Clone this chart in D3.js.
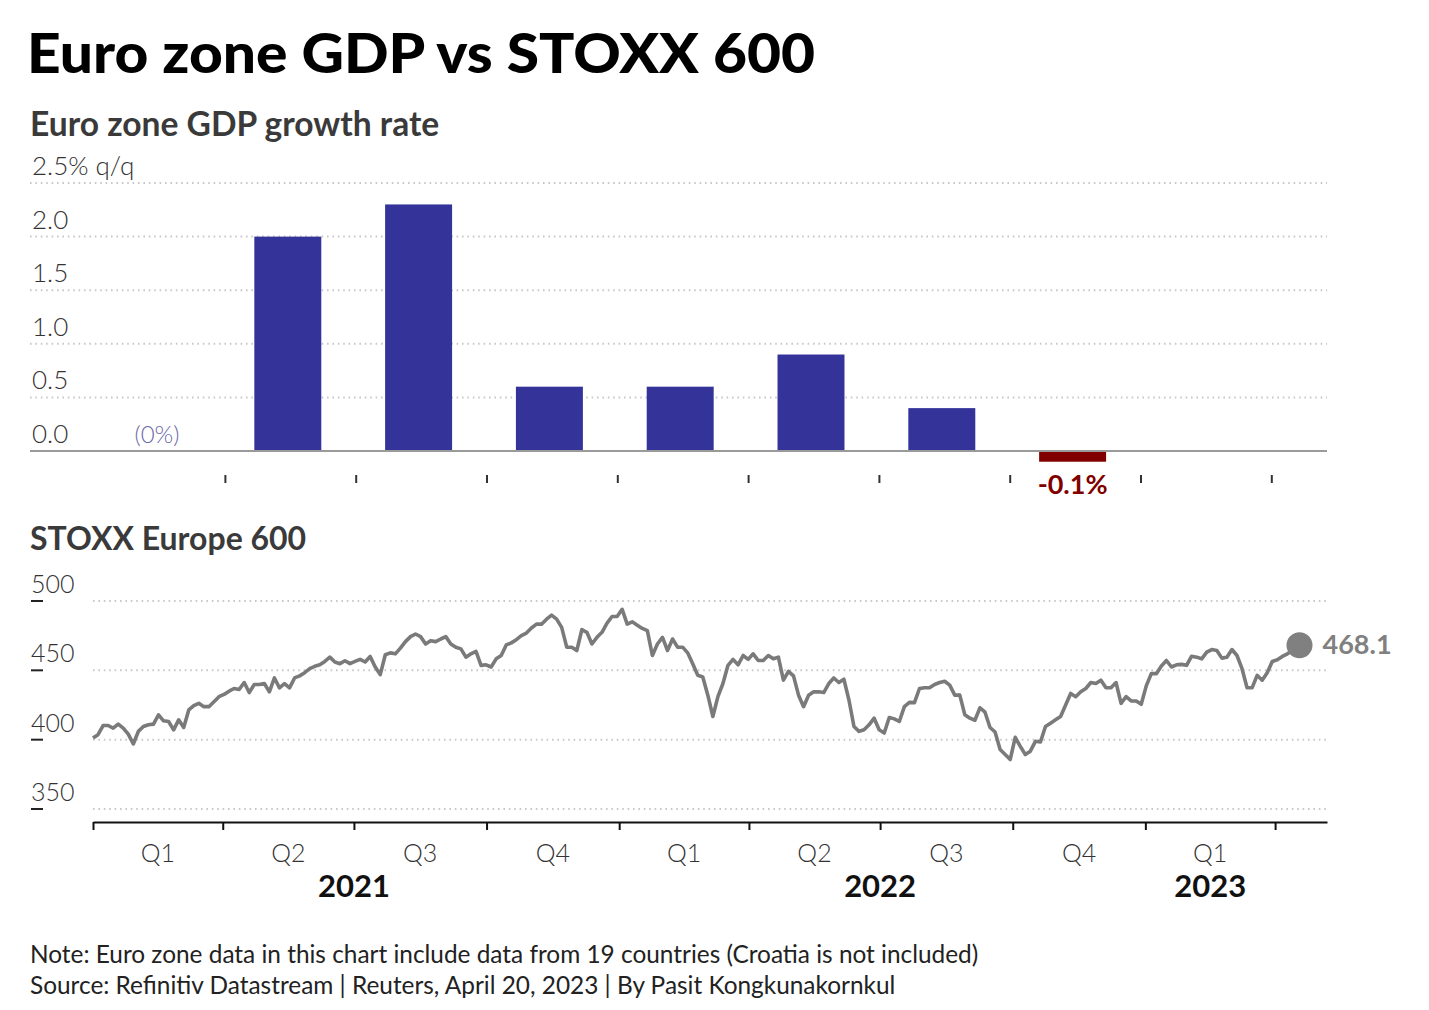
<!DOCTYPE html>
<html><head><meta charset="utf-8">
<script src="https://cdn.jsdelivr.net/npm/d3@7"></script>
<style>
body{margin:0;background:#fff;}
svg{font-family:Lato,"Source Sans Pro",sans-serif;}
</style>
</head><body>
<svg id="c" width="1429" height="1010"></svg>
<script>
// ---------- DATA ----------
const gdpQuarters = ["Q1 2021","Q2 2021","Q3 2021","Q4 2021","Q1 2022","Q2 2022","Q3 2022","Q4 2022","Q1 2023"];
const gdpValues = [0, 2.0, 2.3, 0.6, 0.6, 0.9, 0.4, -0.1, null];
const gdpTicks = [0, 0.5, 1.0, 1.5, 2.0, 2.5];

const stoxxStart = "2021-01-01";
const stoxxEnd = "2023-04-20";
const stoxxValues = [
401.2,403.6,410.2,410.2,408.3,411.2,408.3,404,396.9,406,
409.5,410.7,411.2,417.9,413.6,413.1,407.1,414.3,408.8,421.4,
424.5,426.2,423.8,423.8,427.4,431,432.6,435,436.9,436.2,
441.2,434,439.8,439.8,440.5,434.5,444.5,437.4,440.5,437.4,
444.5,446,448.3,451.2,452.9,454,456.4,459.5,456,454.8,
456.9,454.8,456.4,457.9,456,460,452.4,446.9,461.2,
462.6,461.9,466,470.7,474.3,476.2,474.3,469,471.4,470.7,
472.6,474.3,469,466.7,465.5,459.5,461.9,463.6,453.6,454,
452.4,458.3,460.7,468.3,469.8,472.1,475,476.9,480.5,483.3,
483.3,486.9,489.8,486.9,481,466.7,466.7,464.3,479.3,477.4,
469,473.8,477.4,484,488.8,488.8,494,483.3,485,482.6,
480.2,478.6,460.7,469,473.8,464.3,472.6,466.7,466.7,
462.6,454.8,446.4,445.2,432.1,416.7,431,440.5,453.6,457.9,
454,460.7,457.9,461.9,457.1,457.1,460.7,458.3,459.5,442.9,
449.3,446,432.1,423.8,432.1,434.5,434.5,434,440.5,444.5,
441.2,443.6,428.6,409.5,406,407.1,410.7,415.5,407.1,404.8,
416,415,413.1,423.8,426.9,426.7,436.9,437.4,437.4,439.8,
441.2,442.1,439.3,432.1,432.1,417.9,415.5,414,
423,419.8,408.8,405.5,392.9,389.3,385.7,401.7,395.2,389.3,
391.7,398.8,398.3,409.5,411.9,414.3,416.7,425,433.3,431,
434.5,436.9,441.2,440.5,442.9,437.4,437.4,441.2,426.2,431,
427.9,427.9,425.5,438.8,447.6,447.6,453.1,457.1,452.4,454,
454.3,453.6,460.2,459.5,458.3,463.1,465,464.3,458.8,459.5,
465,460.7,451.2,437.4,437.4,446.4,442.9,448.3,456.4,457.6,
460,461.9,464.3,466.7,468.1
];
const stoxxTicks = [350, 400, 450, 500];
const quarterStarts = ["2021-01-01","2021-04-01","2021-07-01","2021-10-01","2022-01-01","2022-04-01","2022-07-01","2022-10-01","2023-01-01","2023-04-01"];
const quarterLabels = ["Q1","Q2","Q3","Q4","Q1","Q2","Q3","Q4","Q1"];
const yearLabels = ["2021","2022","2023"];
const yearCenters = ["2021-07-01","2022-07-01","2023-02-15"];

// ---------- DRAW ----------
const svg = d3.select("#c");
const parse = d3.utcParse("%Y-%m-%d");

svg.append("text").attr("x", 27).attr("y", 73)
  .attr("font-size", 56).attr("font-weight", 900).attr("fill", "#000")
  .attr("textLength", 788).attr("lengthAdjust", "spacingAndGlyphs")
  .text("Euro zone GDP vs STOXX 600");

svg.append("text").attr("x", 30).attr("y", 136)
  .attr("font-size", 33.6).attr("font-weight", 700).attr("fill", "#3a3a3a")
  .text("Euro zone GDP growth rate");

// Bar chart
const gLeft = 30, gRight = 1327;
const yG = d3.scaleLinear().domain([0, 2.5]).range([451, 183]);
const xG = d3.scaleBand().domain(gdpQuarters).range([91.6, 1268.8]).paddingInner(0.488).paddingOuter(0.244);

const gdpGrid = svg.append("g");
gdpTicks.filter(t => t !== 0).forEach(t => {
  gdpGrid.append("line").attr("x1", gLeft).attr("x2", gRight)
    .attr("y1", yG(t)).attr("y2", yG(t))
    .attr("stroke", "#c8c8c8").attr("stroke-width", 2).attr("stroke-dasharray", "1.6,3.8");
});
gdpTicks.forEach(t => {
  svg.append("text").attr("x", 32).attr("y", yG(t) - 8)
    .attr("font-size", 26).attr("font-weight", 300).attr("fill", "#333")
    .text(t === 2.5 ? "2.5% q/q" : d3.format(".1f")(t));
});

svg.append("g").selectAll("rect")
  .data(gdpQuarters.map((q, i) => ({q, v: gdpValues[i]})).filter(d => d.v !== null && d.v !== 0))
  .join("rect")
  .attr("x", d => xG(d.q)).attr("width", xG.bandwidth())
  .attr("y", d => d.v >= 0 ? yG(d.v) : yG(0))
  .attr("height", d => Math.abs(yG(d.v) - yG(0)))
  .attr("fill", d => d.v >= 0 ? "#333399" : "#800000");

svg.append("line").attr("x1", gLeft).attr("x2", gRight).attr("y1", yG(0)).attr("y2", yG(0))
  .attr("stroke", "#9a9a9a").attr("stroke-width", 2);

gdpQuarters.forEach((q, i) => {
  const v = gdpValues[i];
  if (v === 0) {
    svg.append("text").attr("x", xG(q) + xG.bandwidth()/2).attr("y", yG(0) - 8)
      .attr("text-anchor", "middle").attr("font-size", 24).attr("font-weight", 300).attr("fill", "#6a6aa8")
      .text("(0%)");
  } else if (v !== null && v < 0) {
    svg.append("text").attr("x", xG(q) + xG.bandwidth()/2).attr("y", 494)
      .attr("text-anchor", "middle").attr("font-size", 27).attr("font-weight", 700).attr("fill", "#800000")
      .text(v.toFixed(1) + "%");
  }
});
gdpQuarters.forEach((q, i) => {
  const xb = xG(q) - xG.step() * xG.paddingInner() / 2 + xG.step() + 3;
  svg.append("line").attr("x1", xb).attr("x2", xb).attr("y1", 475).attr("y2", 483)
    .attr("stroke", "#333").attr("stroke-width", 2);
});

// STOXX chart
svg.append("text").attr("x", 30).attr("y", 550)
  .attr("font-size", 32).attr("font-weight", 700).attr("fill", "#3a3a3a")
  .text("STOXX Europe 600");

const xS = d3.scaleUtc().domain([parse("2021-01-01"), parse("2023-05-07")]).range([93, 1327]);
const yS = d3.scaleLinear().domain([350, 500]).range([809, 601]);

stoxxTicks.forEach(t => {
  svg.append("line").attr("x1", 93).attr("x2", 1327).attr("y1", yS(t)).attr("y2", yS(t))
    .attr("stroke", "#c8c8c8").attr("stroke-width", 2).attr("stroke-dasharray", "1.6,3.8");
  svg.append("line").attr("x1", 31).attr("x2", 43).attr("y1", yS(t)).attr("y2", yS(t))
    .attr("stroke", "#222").attr("stroke-width", 2);
  svg.append("text").attr("x", 31).attr("y", yS(t) - 8)
    .attr("font-size", 25).attr("font-weight", 300).attr("fill", "#333")
    .text(t);
});

const t0 = parse(stoxxStart).getTime(), t1 = parse(stoxxEnd).getTime();
const stoxxData = stoxxValues.map((v, i) => ({date: new Date(t0 + (t1 - t0) * i / (stoxxValues.length - 1)), v}));

svg.append("path").datum(stoxxData)
  .attr("fill", "none").attr("stroke", "#7a7a7a").attr("stroke-width", 3.6)
  .attr("stroke-linejoin", "round")
  .attr("d", d3.line().x(d => xS(d.date)).y(d => yS(d.v)));

const last = stoxxData[stoxxData.length - 1];
svg.append("circle").attr("cx", xS(last.date) - 3).attr("cy", yS(last.v)).attr("r", 13).attr("fill", "#808080");
svg.append("text").attr("x", xS(last.date) + 20).attr("y", yS(last.v) + 9)
  .attr("font-size", 27).attr("font-weight", 700).attr("fill", "#808080")
  .text(last.v.toFixed(1));

// x axis
const qDates = quarterStarts.map(parse);
const axis = d3.axisBottom(xS).tickValues(qDates).tickSize(8).tickSizeOuter(0).tickFormat("");
const ax = svg.append("g").attr("transform", "translate(0,822)").call(axis);
ax.select(".domain").attr("stroke", "#111").attr("stroke-width", 2);
ax.selectAll(".tick line").attr("stroke", "#111").attr("stroke-width", 2);

quarterLabels.forEach((l, i) => {
  const xm = (xS(qDates[i]) + xS(qDates[i + 1])) / 2;
  svg.append("text").attr("x", xm).attr("y", 862).attr("text-anchor", "middle")
    .attr("font-size", 25).attr("font-weight", 300).attr("fill", "#333").text(l);
});
yearLabels.forEach((y, i) => {
  svg.append("text").attr("x", xS(parse(yearCenters[i]))).attr("y", 897).attr("text-anchor", "middle")
    .attr("font-size", 31).attr("font-weight", 700).attr("fill", "#111").text(y);
});

// footer
svg.append("text").attr("x", 30).attr("y", 963).attr("font-size", 24.4).attr("fill", "#222")
  .text("Note: Euro zone data in this chart include data from 19 countries (Croatia is not included)");
svg.append("text").attr("x", 30).attr("y", 994).attr("font-size", 24.4).attr("fill", "#222")
  .text("Source: Refinitiv Datastream | Reuters, April 20, 2023 | By Pasit Kongkunakornkul");
</script>
</body></html>
